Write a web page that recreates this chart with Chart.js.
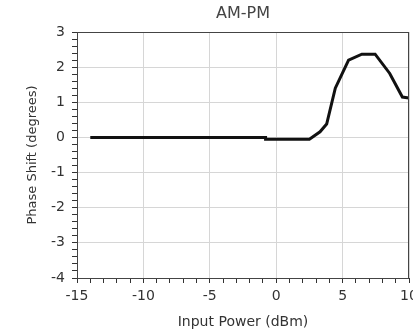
<!DOCTYPE html>
<html>
<head>
<meta charset="utf-8">
<title>AM-PM</title>
<script src="https://cdn.jsdelivr.net/npm/chart.js@4/dist/chart.umd.min.js"></script>
<style>
  html,body{margin:0;padding:0;background:#fff;}
  #chart{display:block;}
</style>
</head>
<body>
<canvas id="chart" width="413" height="332"></canvas>
<script>
const chartTitle='AM-PM';
const inputPower=[-14,-0.8,-0.8,2.5,3.3,3.8,4.45,5.45,6.45,7.45,8.55,9.5,10];
const phaseShift=[0,0,-0.05,-0.05,0.16,0.38,1.4,2.2,2.37,2.37,1.82,1.15,1.12];
const xRange=[-15,10];
const yRange=[-4,3];

const isMultiple=(v,step)=>Math.abs(v/step-Math.round(v/step))<1e-6;
const fontFamily='"DejaVu Sans", sans-serif';

// box round the plot area, title centred over it
const frame={
  id:'frame',
  afterDatasetsDraw(chart){
    const {ctx,chartArea:a}=chart;
    ctx.save();
    ctx.strokeStyle='#444';
    ctx.lineWidth=1;
    ctx.strokeRect(a.left+0.5,a.top+0.5,a.right-a.left-1,a.bottom-a.top);
    ctx.fillStyle='#444';
    ctx.font='16px '+fontFamily;
    ctx.textAlign='center';
    ctx.textBaseline='middle';
    ctx.fillText(chartTitle,(a.left+a.right)/2,14);
    ctx.restore();
  }
};

const tickFont={family:fontFamily,size:14};

new Chart(document.getElementById('chart'),{
  type:'line',
  data:{
    datasets:[{
      data:inputPower.map((x,i)=>({x,y:phaseShift[i]})),
      borderColor:'#111',
      borderWidth:3,
      pointRadius:0,
      tension:0,
      fill:false
    }]
  },
  options:{
    responsive:false,
    animation:false,
    devicePixelRatio:1,
    layout:{padding:{left:0,right:4,top:32,bottom:0}},
    plugins:{
      legend:{display:false},
      tooltip:{enabled:false},
      title:{display:false}
    },
    scales:{
      x:{
        type:'linear',
        min:xRange[0],max:xRange[1],
        afterFit(s){s.height=54;s.paddingLeft=0;s.paddingRight=0;},
        ticks:{
          stepSize:1,autoSkip:false,maxRotation:0,
          color:'#333',font:tickFont,padding:5,
          callback:v=>isMultiple(v,5)?String(Math.round(v)):''
        },
        grid:{
          color:c=>isMultiple(c.tick.value,5)?'#d6d6d6':'rgba(0,0,0,0)',
          tickColor:'#333',tickLength:5,lineWidth:1
        },
        border:{display:true,color:'#333'},
        title:{
          display:true,text:'Input Power (dBm)',color:'#333',
          font:{family:fontFamily,size:14},
          padding:{top:0,bottom:1}
        }
      },
      y:{
        type:'linear',
        min:yRange[0],max:yRange[1],
        afterFit(s){s.width=77;s.paddingTop=0;s.paddingBottom=0;},
        ticks:{
          stepSize:0.2,autoSkip:false,
          color:'#333',font:tickFont,padding:7,
          callback:v=>isMultiple(v,1)?String(Math.round(v)):''
        },
        grid:{
          color:c=>isMultiple(c.tick.value,1)?'#d6d6d6':'rgba(0,0,0,0)',
          tickColor:'#333',tickLength:5,lineWidth:1
        },
        border:{display:true,color:'#333'},
        title:{
          display:true,text:'Phase Shift (degrees)',color:'#333',
          font:{family:fontFamily,size:13},
          padding:{top:25,bottom:0}
        }
      }
    }
  },
  plugins:[frame]
});
</script>
</body>
</html>
